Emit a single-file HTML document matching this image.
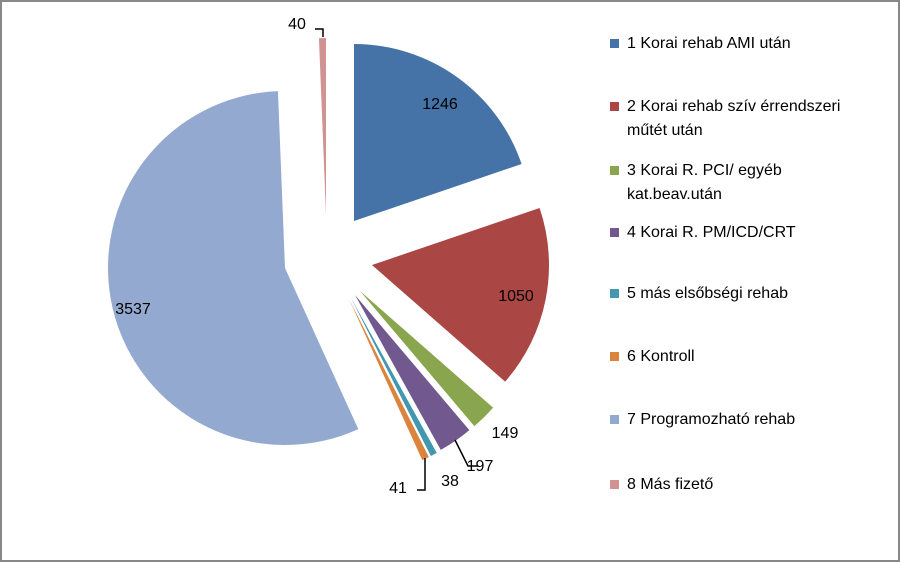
<!DOCTYPE html>
<html><head><meta charset="utf-8"><style>
html,body{margin:0;padding:0;background:#fff}
#wrap{position:relative;width:896px;height:558px;border:2px solid #888;background:#fff;overflow:hidden}
svg{position:absolute;left:0;top:0}
text{font-family:"Liberation Sans",sans-serif;font-size:16px;fill:#000}
</style></head><body>
<div id="wrap">
<svg id="chart" width="896" height="558"></svg>
</div>
<script>
const categories=["1 Korai rehab AMI után","2 Korai rehab szív érrendszeri|műtét után","3 Korai R. PCI/ egyéb|kat.beav.után","4 Korai R. PM/ICD/CRT","5 más elsőbségi rehab","6 Kontroll","7 Programozható rehab","8 Más fizető"];
const values=[1246,1050,149,197,38,41,3537,40];
const colors=["#4572A7","#AA4643","#89A54E","#71588F","#4198AF","#DB843D","#93A9CF","#D19392"];
const apexes=[[352,219],[370,263],[358,289],[353,293],[349,296],[347,297],[283,266],[324,213]];
const labelPos=[[438,107],[514,299],[503,436],[478,469],[448,484],[396,491],[131,312],[295,27]];
const legendY=[46,109,173,235,296,359,422,487];
const R=177;
const svg=document.getElementById('chart');
const NS="http://www.w3.org/2000/svg";
function mk(t,a){const e=document.createElementNS(NS,t);for(const k in a)e.setAttribute(k,a[k]);svg.appendChild(e);return e;}
const total=values.reduce((a,b)=>a+b,0);
function pt(c,ang){return [c[0]+R*Math.sin(ang),c[1]-R*Math.cos(ang)];}
let a0=0;
values.forEach((v,i)=>{
  const a1=a0+v/total*2*Math.PI;
  const c=apexes[i];
  const p0=pt(c,a0),p1=pt(c,a1);
  const large=(a1-a0)>Math.PI?1:0;
  const p=mk('path',{d:`M${c[0]},${c[1]} L${p0[0]},${p0[1]} A${R},${R} 0 ${large} 1 ${p1[0]},${p1[1]} Z`,fill:colors[i]});
  
  
  const t=mk('text',{x:labelPos[i][0],y:labelPos[i][1],'text-anchor':'middle'});
  t.textContent=values[i];
  
  
  a0=a1;
});
// leader lines
[[ "M313,27 L321,27 L321,35"],["M453,438 L466,464 L476,464"],["M423,456 L423,488 L415,488"]].forEach((d,i)=>{
  const l=mk('path',{d:d[0],stroke:'#000','stroke-width':1.5,fill:'none'});
  
  
});
categories.forEach((c,i)=>{
  const y=legendY[i];
  const r=mk('rect',{x:608,y:y-9,width:9,height:9,fill:colors[i]});
  
  
  const lines=c.split('|');
  lines.forEach((ln,j)=>{
    const t=mk('text',{x:625,y:y+j*24});
    t.textContent=ln;
    
    
  });
});
</script>
</body></html>
